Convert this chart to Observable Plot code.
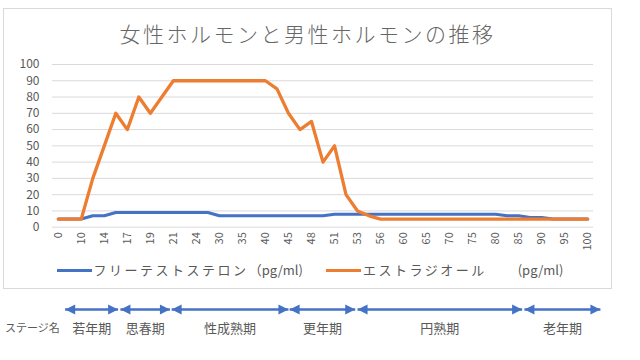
<!DOCTYPE html>
<html><head><meta charset="utf-8">
<script src="https://cdn.jsdelivr.net/npm/d3@7"></script>
<script src="https://cdn.jsdelivr.net/npm/@observablehq/plot@0.6"></script>
<style>
body{margin:0;background:#fff;width:640px;height:360px;position:relative;overflow:hidden;font-family:"Noto Sans CJK JP","Noto Sans",sans-serif;color:#595959}
#frame{position:absolute;left:3px;top:8px;width:609px;height:281px;border:1px solid #d9d9d9;box-sizing:border-box}
#title{position:absolute;left:3px;width:609px;top:19px;text-align:center;font-size:21px;letter-spacing:2.5px;font-weight:300;color:#666;line-height:28px;white-space:nowrap}
#chart{position:absolute;left:0;top:50px}
#legend{position:absolute;left:0;width:620px;top:260px;display:flex;justify-content:center;gap:23px;font-size:13px;line-height:20px;white-space:nowrap}
.item{display:flex;align-items:center}
.sw{width:35px;height:3px;margin-right:2px}
.kana{letter-spacing:2.5px}
#stageLabel{position:absolute;left:5px;top:319px;font-size:11px;line-height:16px;white-space:nowrap}
#stages{position:absolute;left:0;top:295px}
</style></head>
<body>
<div id="frame"></div>
<div id="title">女性ホルモンと男性ホルモンの推移</div>
<div id="chart"></div>
<div id="legend"></div>
<div id="stageLabel">ステージ名</div>
<div id="stages"></div>
<script>
const xLabels = ["0","10","14","17","19","21","24","30","35","40","45","48","51","53","56","60","65","70","75","80","85","90","95","100"];
const testosterone = [5,5,5,7,7,9,9,9,9,9,9,9,9,9,7,7,7,7,7,7,7,7,7,7,8,8,8,8,8,8,8,8,8,8,8,8,8,8,8,7,7,6,6,5,5,5,5];
const estradiol = [5,5,5,30,50,70,60,80,70,80,90,90,90,90,90,90,90,90,90,85,70,60,65,40,50,20,10,7,5,5,5,5,5,5,5,5,5,5,5,5,5,5,5,5,5,5,5];
const seriesNames = ["フリーテストステロン", "エストラジオール　　"];
const seriesUnits = ["（pg/ml)", "(pg/ml)"];
const seriesColors = ["#4472C4", "#ED7D31"];
const yTicks = [0,10,20,30,40,50,60,70,80,90,100];
const stageNames = ["若年期","思春期","性成熟期","更年期","円熟期","老年期"];
const stageStart = [0.6, 5.4, 9.85, 20.1, 26.0, 40.5];
const stageEnd   = [5.2, 9.7, 20.0, 25.8, 40.3, 47.1];

const n = estradiol.length;
const idx = d3.range(n);
const xTickIdx = idx.filter(i => i % 2 === 0);
const font = '"Noto Sans CJK JP","Noto Sans",sans-serif';

const chart = Plot.plot({
  width: 640, height: 205,
  marginTop: 14, marginBottom: 28.3, marginLeft: 52, marginRight: 47,
  style: {fontFamily: font, color: "#595959", background: "transparent", overflow: "visible"},
  x: {type: "linear", domain: [-0.5, n - 0.5]},
  y: {domain: [0, 100]},
  marks: [
    Plot.ruleY(yTicks, {stroke: "#d9d9d9", strokeWidth: 1}),
    Plot.axisY(yTicks, {tickSize: 0, tickPadding: 13, fontSize: 12, label: null}),
    Plot.axisX(xTickIdx, {tickSize: 0, tickPadding: 5, tickRotate: -90, fontSize: 11, tickFormat: i => xLabels[i / 2], label: null}),
    Plot.line(idx, {x: i => i, y: i => testosterone[i], stroke: seriesColors[0], strokeWidth: 3, strokeLinejoin: "round"}),
    Plot.line(idx, {x: i => i, y: i => estradiol[i], stroke: seriesColors[1], strokeWidth: 3.3, strokeLinejoin: "round"})
  ]
});
document.getElementById("chart").appendChild(chart);

const legend = document.getElementById("legend");
seriesNames.forEach((name, k) => {
  const item = document.createElement("div");
  item.className = "item";
  const sw = document.createElement("span");
  sw.className = "sw";
  sw.style.background = seriesColors[k];
  const t = document.createElement("span");
  t.className = "kana";
  t.textContent = name;
  const u = document.createElement("span");
  u.textContent = seriesUnits[k];
  item.appendChild(sw); item.appendChild(t); item.appendChild(u);
  legend.appendChild(item);
});

const stages = stageNames.map((name, k) => ({name, start: stageStart[k], end: stageEnd[k], mid: (stageStart[k] + stageEnd[k]) / 2}));
const triLeft = {draw(c) { c.moveTo(0, 0); c.lineTo(10, -5); c.lineTo(10, 5); c.closePath(); }};
const triRight = {draw(c) { c.moveTo(0, 0); c.lineTo(-10, -5); c.lineTo(-10, 5); c.closePath(); }};
const arrowColor = "#4472C4";
const stagePlot = Plot.plot({
  width: 640, height: 45,
  marginTop: 0, marginBottom: 0, marginLeft: 52, marginRight: 47,
  style: {fontFamily: font, color: "#595959", background: "transparent", overflow: "visible"},
  x: {type: "linear", domain: [-0.5, n - 0.5], axis: null},
  y: {type: "point", domain: ["arrow", "label"], range: [13.5, 32.5], padding: 0, axis: null},
  marks: [
    Plot.link(stages, {x1: "start", x2: "end", y1: () => "arrow", y2: () => "arrow", stroke: arrowColor, strokeWidth: 2.5}),
    Plot.dot(stages, {x: "start", y: () => "arrow", symbol: triLeft, fill: arrowColor, stroke: "none"}),
    Plot.dot(stages, {x: "end", y: () => "arrow", symbol: triRight, fill: arrowColor, stroke: "none"}),
    Plot.text(stages, {x: "mid", y: () => "label", text: "name", fontSize: 13, fill: "#595959"})
  ]
});
document.getElementById("stages").appendChild(stagePlot);
</script>
</body></html>
